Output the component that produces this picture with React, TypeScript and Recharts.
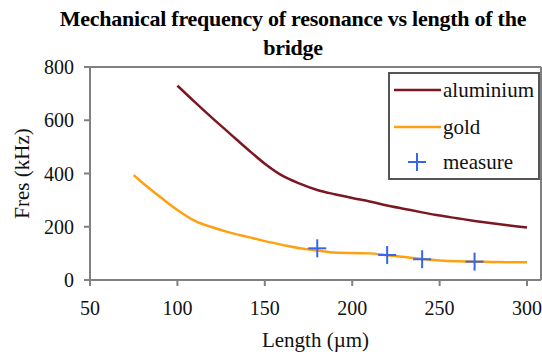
import {
  ComposedChart,
  Line,
  Scatter,
  XAxis,
  YAxis,
  ReferenceLine,
} from "recharts";

// aluminium bridge, simulated
const alLength = [100, 110, 120, 130, 140, 150, 160, 170, 180, 190, 200, 210, 220, 230, 240, 250, 260, 270, 280, 290, 300];
const alFreq = [730, 668, 608, 550, 492, 437, 392, 362, 338, 322, 308, 295, 280, 267, 254, 242, 232, 222, 213, 205, 197];

// gold bridge, simulated
const auLength = [75, 80, 90, 100, 110, 120, 130, 140, 150, 160, 170, 180, 190, 200, 210, 220, 230, 240, 250, 260, 270, 280, 290, 300];
const auFreq = [394, 365, 313, 263, 222, 198, 178, 162, 146, 132, 119, 111, 103, 101, 100, 93, 86, 79, 73, 70, 69, 68, 67, 67];

// measured points
const measLength = [180, 220, 240, 270];
const measFreq = [119, 94, 78, 69];

const xTicks = [50, 100, 150, 200, 250, 300];
const yTicks = [0, 200, 400, 600, 800];

const AL_COLOR = "#7c1722";
const AU_COLOR = "#ffa010";
const MEAS_COLOR = "#3466ee";
const AXIS_COLOR = "#808080";
const FONT = '"Liberation Serif", "Times New Roman", serif';

const alData = alLength.map((L, i) => ({ L, f: alFreq[i] }));
const auData = auLength.map((L, i) => ({ L, f: auFreq[i] }));
const measData = measLength.map((L, i) => ({ L, f: measFreq[i] }));

const Cross = (props: any) => {
  const { cx, cy } = props;
  if (cx == null || cy == null) return null;
  return (
    <g stroke={MEAS_COLOR} strokeWidth={2}>
      <line x1={cx - 9} y1={cy} x2={cx + 9} y2={cy} />
      <line x1={cx} y1={cy - 9} x2={cx} y2={cy + 9} />
    </g>
  );
};

const titleStyle = {
  position: "absolute" as const,
  left: 0,
  width: 586,
  textAlign: "center" as const,
  fontSize: 22,
  fontWeight: "bold" as const,
  lineHeight: 1,
  letterSpacing: -0.25,
  whiteSpace: "nowrap" as const,
};

export default function App() {
  const tick = { fontSize: 20, fill: "#111", fontFamily: FONT };
  return (
    <div
      style={{
        position: "absolute",
        left: 0,
        top: 0,
        width: 542,
        height: 355,
        background: "#fff",
        fontFamily: FONT,
      }}
    >
      <div style={{ ...titleStyle, top: 8 }}>
        Mechanical frequency of resonance vs length of the
      </div>
      <div style={{ ...titleStyle, top: 37 }}>bridge</div>

      <ComposedChart
        width={542}
        height={355}
        margin={{ top: 67, right: 1, bottom: 10, left: 0 }}
      >
        <XAxis
          type="number"
          dataKey="L"
          domain={[50, 308]}
          ticks={xTicks}
          tick={tick}
          tickSize={6}
          tickMargin={15}
          height={65}
          stroke={AXIS_COLOR}
          strokeWidth={2}
          allowDataOverflow
          label={{
            value: "Length (µm)",
            position: "center",
            dy: 27,
            fontSize: 21,
            fill: "#111",
            fontFamily: FONT,
          }}
        />
        <YAxis
          type="number"
          dataKey="f"
          domain={[0, 800]}
          ticks={yTicks}
          tick={tick}
          tickSize={6}
          tickMargin={10}
          width={90}
          stroke={AXIS_COLOR}
          strokeWidth={2}
          label={{
            value: "Fres (kHz)",
            angle: -90,
            position: "center",
            dx: -23,
            fontSize: 21,
            fill: "#111",
            fontFamily: FONT,
          }}
        />
        <ReferenceLine y={800} stroke={AXIS_COLOR} strokeWidth={2} />
        <ReferenceLine x={308} stroke={AXIS_COLOR} strokeWidth={2} />
        <Line
          data={alData}
          dataKey="f"
          type="monotone"
          stroke={AL_COLOR}
          strokeWidth={2.5}
          dot={false}
          isAnimationActive={false}
        />
        <Line
          data={auData}
          dataKey="f"
          type="monotone"
          stroke={AU_COLOR}
          strokeWidth={2.5}
          dot={false}
          isAnimationActive={false}
        />
        <Scatter
          data={measData}
          dataKey="f"
          shape={Cross}
          isAnimationActive={false}
        />
      </ComposedChart>

      <div
        style={{
          position: "absolute",
          left: 388,
          top: 72,
          width: 148,
          height: 104,
          border: "2px solid #555",
          background: "#fff",
        }}
      >
        <svg width={148} height={104} style={{ position: "absolute", left: 0, top: 0 }}>
          <line x1={4} y1={16} x2={51} y2={16} stroke={AL_COLOR} strokeWidth={2.5} />
          <line x1={4} y1={53} x2={51} y2={53} stroke={AU_COLOR} strokeWidth={2.5} />
          <Cross cx={27} cy={88} />
          <text x={53} y={23} fontSize={21} fontFamily={FONT} fill="#111">aluminium</text>
          <text x={53} y={60} fontSize={21} fontFamily={FONT} fill="#111">gold</text>
          <text x={53} y={95} fontSize={21} fontFamily={FONT} fill="#111">measure</text>
        </svg>
      </div>
    </div>
  );
}
